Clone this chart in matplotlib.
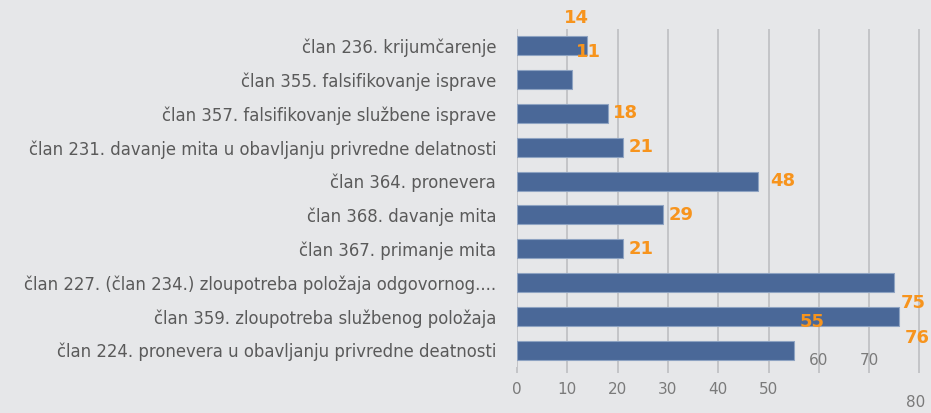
import matplotlib.pyplot as plt
import numpy as np

categories = [
    "član 236. krijumčarenje",
    "član 355. falsifikovanje isprave",
    "član 357. falsifikovanje službene isprave",
    "član 231. davanje mita u obavljanju privredne delatnosti",
    "član 364. pronevera",
    "član 368. davanje mita",
    "član 367. primanje mita",
    "član 227. (član 234.) zloupotreba položaja odgovornog....",
    "član 359. zloupotreba službenog položaja",
    "član 224. pronevera u obavljanju privredne deatnosti",
]
values = [14, 11, 18, 21, 48, 29, 21, 75, 76, 55]
ticks = [0, 10, 20, 30, 40, 50, 60, 70, 80]

bg = "#e6e7e9"
bar_col = "#4a6898"
orange = "#f7941d"
grey = "#5a5a5a"
plt.rcParams['font.family'] = ['DejaVu Sans']

fig = plt.figure(figsize=(9.31, 4.13), dpi=100, facecolor=bg)
ax = fig.add_axes([517/931, 46/413, 404/931, 338/413])
ax.set_facecolor(bg)

y = np.arange(len(values))
ax.barh(y, values, height=0.56, color=bar_col, edgecolor="#8ea3c2", linewidth=0.8, zorder=3)
ax.set_ylim(len(values) - 0.5, -0.5)
ax.set_xlim(0, 80.3)

# grid
for t in ticks:
    ax.axvline(t, color="#c4c5c8", lw=1.4, zorder=1)
for s in ax.spines.values():
    s.set_visible(False)

ax.set_yticks(y)
ax.set_yticklabels(categories, fontsize=11.9, color=grey)
ax.tick_params(axis="y", length=0, pad=15)

# x tick labels (the picture has 60/70/80 shifted)
tcol = "#7a7a7a"
ax.set_xticks(ticks)
ax.set_xticklabels([str(t) if t <= 50 else "" for t in ticks], fontsize=11, color=tcol)
ax.tick_params(axis="x", length=4, color="#c4c5c8", width=1.4, pad=7)
for t in [60, 70]:
    ax.text(t, 9.3, str(t), ha="center", va="center", fontsize=11, color=tcol, zorder=4)
ax.text(79.2, 10.55, "80", ha="center", va="center", fontsize=11, color=tcol, clip_on=False)

# value labels, as displaced in the source picture
lab_ix = [0, 0, 2, 3, 4, 5, 6, 7, 8, 9]
lab_dx = [-2.1, 0.1, 3.6, 3.6, 4.8, 3.7, 3.6, 3.8, 3.6, 3.7]
lab_dy = [-0.83, -0.82, 0.0, 0.0, 0.0, 0.0, 0.0, 0.6, 0.64, -0.83]
for i, v in enumerate(values):
    base = values[lab_ix[i]]
    ax.text(base + lab_dx[i], i + lab_dy[i], str(v), ha="center", va="center",
            fontsize=13, fontweight="bold", color=orange, zorder=5, clip_on=False)

fig.savefig("out.png", dpi=100, facecolor=bg)
